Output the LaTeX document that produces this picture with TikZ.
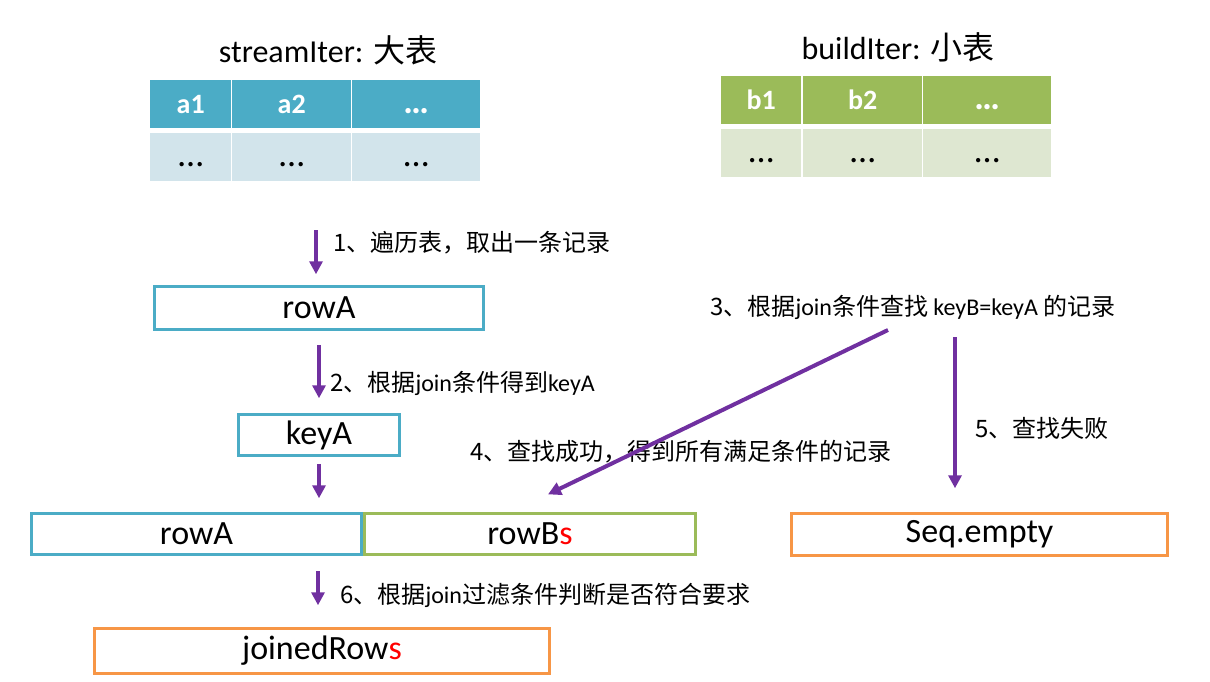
\documentclass[tikz,border=0pt]{standalone}
\usepackage{fontspec}
\setmainfont{Carlito}
\newfontfamily\cjk{Noto Sans CJK SC}
\usepackage{tikz}
\usetikzlibrary{arrows.meta}

\definecolor{tealA}{HTML}{4BACC6}
\definecolor{tealB}{HTML}{D2E4EB}
\definecolor{greenA}{HTML}{9BBB59}
\definecolor{greenB}{HTML}{DEE7D1}
\definecolor{orangeA}{HTML}{F79646}
\definecolor{flowpurple}{HTML}{7030A0}
\newcommand{\zhtext}[1]{{\cjk #1}}
\newcommand{\reds}{\textcolor{red}{s}}
\newcommand{\moredots}{\vphantom{a1}{\fontsize{36}{40}\selectfont …}}

\begin{document}
\begin{tikzpicture}[x=1pt,y=-1pt,
    box/.style={draw,line width=3.5pt,inner sep=0pt,font=\fontsize{34}{40}\selectfont},
    head/.style={anchor=north west,inner sep=0pt,text=white,font=\fontsize{28}{32}\selectfont\bfseries},
    cell/.style={anchor=north west,inner sep=0pt,font=\fontsize{28}{32}\selectfont},
    note/.style={anchor=west,inner sep=0pt,font=\fontsize{24}{28}\selectfont},
    title/.style={inner sep=0pt,font=\fontsize{32}{36}\selectfont},
    flow/.style={flowpurple,line width=4pt,-{Triangle[length=13pt,width=13pt]}}]
            \useasboundingbox (0,0) rectangle (1210,681);
            % the two tables
            \node[title] (titleA) at (328,50) {streamIter: \zhtext{大表}};
            \node[title] (titleB) at (898,47) {buildIter: \zhtext{小表}};
            \foreach \i/\x/\w/\txt in {1/150/81/a1,2/232/119/a2,3/352/128/\moredots}{
                \node[head,fill=tealA,minimum width=\w pt,minimum height=48pt] (ha\i) at (\x,80) {\txt};
                \node[cell,fill=tealB,minimum width=\w pt,minimum height=48pt] (ra\i) at (\x,133) {\moredots};
            }
            \foreach \i/\x/\w/\txt in {1/721/80/b1,2/803/119/b2,3/923/128/\moredots}{
                \node[head,fill=greenA,minimum width=\w pt,minimum height=48pt] (hb\i) at (\x,76) {\txt};
                \node[cell,fill=greenB,minimum width=\w pt,minimum height=48pt] (rb\i) at (\x,129) {\moredots};
            }
            % boxes
            \node[box,draw=tealA,minimum width=329pt,minimum height=43pt] (rowA) at (319,308) {rowA};
            \node[box,draw=tealA,minimum width=161pt,minimum height=41pt] (keyA) at (319,435) {keyA};
            \node[box,draw=tealA,minimum width=330pt,minimum height=41pt] (pairA) at (196.5,534) {rowA};
            \node[box,draw=greenA,minimum width=331pt,minimum height=41pt] (pairB) at (530,534) {rowB\reds};
            \node[box,draw=orangeA,minimum width=376pt,minimum height=42pt] (seq) at (979.5,534.5) {Seq.empty};
            \node[box,draw=orangeA,minimum width=455pt,minimum height=45pt] (joined) at (322,651) {joinedRow\reds};
            % step texts
            \node[note] (step1) at (333,243) {\zhtext{1、遍历表，取出一条记录}};
            \node[note] (step2) at (330,383) {\zhtext{2、根据}join\zhtext{条件得到}keyA};
            \node[note] (step3) at (710,307) {\zhtext{3、根据}join\zhtext{条件查找} keyB=keyA \zhtext{的记录}};
            \node[note] (step4) at (470,452) {\zhtext{4、查找成功，得到所有满足条件的记录}};
            \node[note] (step5) at (975,428) {\zhtext{5、查找失败}};
            \node[note] (step6) at (340,595) {\zhtext{6、根据}join\zhtext{过滤条件判断是否符合要求}};
            % arrows
            \coordinate (scan) at (316,230);
            \coordinate (found) at (888,330);
            \coordinate (miss) at (955,337);
            \coordinate (filt) at (318,571);
            \draw[flow,shorten >=10.5pt] (scan) -- (scan |- rowA.north);
            \draw[flow,shorten <=13.5pt,shorten >=14.5pt] (rowA.south) -- (keyA.north);
            \draw[flow,shorten <=6.5pt,shorten >=13.5pt] (keyA.south) -- (keyA.south |- pairA.north);
            \draw[flow,shorten >=40pt] (found) -- ([xshift=-18pt]pairB.north);
            \draw[flow,shorten >=23.5pt] (miss) -- (miss |- seq.north);
            \draw[flow,shorten >=21.5pt] (filt) -- (filt |- joined.north);
        \end{tikzpicture}
\end{document}
